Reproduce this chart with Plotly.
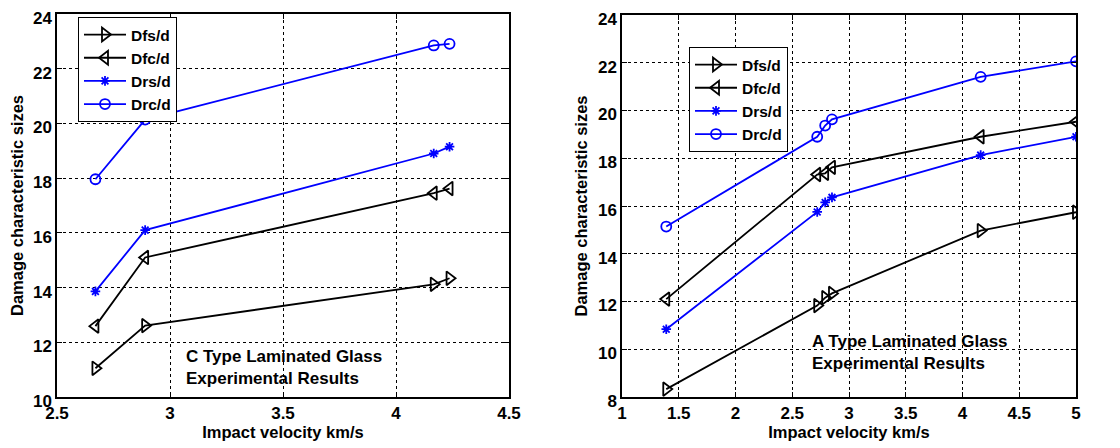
import plotly.graph_objects as go

# C type (left)
c_v = [2.67, 2.89, 4.167, 4.237]
c_dfs = [11.05, 12.61, 14.12, 14.34]
c_dfc = [12.59, 15.10, 17.45, 17.62]
c_drs = [13.86, 16.10, 18.90, 19.15]
c_drc = [17.96, 20.14, 22.85, 22.91]

# A type (right)
a_v = [1.39, 2.72, 2.79, 2.85, 4.16, 5.0]
a_dfs = [8.33, 11.83, 12.16, 12.34, 14.97, 15.74]
a_dfc = [12.10, 17.32, 17.37, 17.62, 18.90, 19.53]
a_drs = [10.84, 15.75, 16.15, 16.36, 18.13, 18.90]
a_drc = [15.14, 18.90, 19.37, 19.63, 21.41, 22.06]

names = ["Dfs/d", "Dfc/d", "Drs/d", "Drc/d"]
colors = ["black", "black", "#0000ff", "#0000ff"]
symbols = ["triangle-right-open", "triangle-left-open", "asterisk-open", "circle-open"]
sizes = [12, 12, 8, 10]

FONT = "Liberation Sans"
W, H, OFF = 1120, 448, 8

def px(x):
    return (x - OFF) / W

def py(y):
    return 1 - (y - OFF) / H

fig = go.Figure()

def add_set(xv, ys, xa, ya, leg):
    for i, y in enumerate(ys):
        fig.add_trace(go.Scatter(
            x=xv, y=y, name=names[i], mode="lines+markers",
            line=dict(color=colors[i], width=1.8),
            marker=dict(symbol=symbols[i], size=sizes[i], color=colors[i],
                        line=dict(color=colors[i], width=1.8)),
            xaxis=xa, yaxis=ya, legend=leg))

add_set(c_v, [c_dfs, c_dfc, c_drs, c_drc], "x", "y", "legend")
add_set(a_v, [a_dfs, a_dfc, a_drs, a_drc], "x2", "y2", "legend2")

tfont = dict(family=FONT, size=17, color="black", weight="bold")
title_font = dict(family=FONT, size=16.5, color="black", weight="bold")
lfont = dict(family=FONT, size=15.5, color="black", weight="bold")

ax_common = dict(showline=True, linecolor="black", linewidth=1.5, mirror="ticks",
                 ticks="inside", ticklen=5, tickcolor="black",
                 showgrid=True, gridcolor="black", griddash="3px,3px", gridwidth=1,
                 zeroline=False, automargin=False, tickfont=tfont,
                 ticklabeloverflow="allow")

fig.update_layout(
    width=W, height=H, paper_bgcolor="white", plot_bgcolor="white",
    margin=dict(l=0, r=0, t=0, b=0),
    showlegend=True,
    xaxis=dict(domain=[px(57), px(509)], range=[2.5, 4.5], dtick=0.5, anchor="y",
               title=dict(text="Impact velocity km/s", standoff=2, font=title_font),
               **ax_common),
    yaxis=dict(domain=[py(397), py(14)], range=[10, 24], dtick=2, anchor="x",
               ticklabelshift=4,
               title=dict(text="Damage characteristic sizes", standoff=6, font=title_font),
               **ax_common),
    xaxis2=dict(domain=[px(622), px(1076)], range=[1, 5], dtick=0.5, anchor="y2",
                title=dict(text="Impact velocity km/s", standoff=2, font=title_font),
                **ax_common),
    yaxis2=dict(domain=[py(397), py(15)], range=[8, 24], dtick=2, anchor="x2",
                ticklabelshift=4,
                title=dict(text="Damage characteristic sizes", standoff=6, font=title_font),
                **ax_common),
    legend=dict(x=px(78), y=py(17), xanchor="left", yanchor="top",
                bgcolor="white", bordercolor="black", borderwidth=1,
                font=lfont, tracegroupgap=0, itemwidth=42),
    legend2=dict(x=px(689), y=py(47), xanchor="left", yanchor="top",
                 bgcolor="white", bordercolor="black", borderwidth=1,
                 font=lfont, tracegroupgap=0, itemwidth=42),
)

for txt, x, y in [("C Type Laminated Glass<br>Experimental Results", 184, 345),
                  ("A Type Laminated Glass<br>Experimental Results", 810, 330)]:
    fig.add_annotation(text=txt, x=px(x), y=py(y), xref="paper", yref="paper",
                       xanchor="left", yanchor="top", align="left", showarrow=False,
                       font=dict(family=FONT, size=17, color="black", weight="bold"))

fig.write_html("out.html")
